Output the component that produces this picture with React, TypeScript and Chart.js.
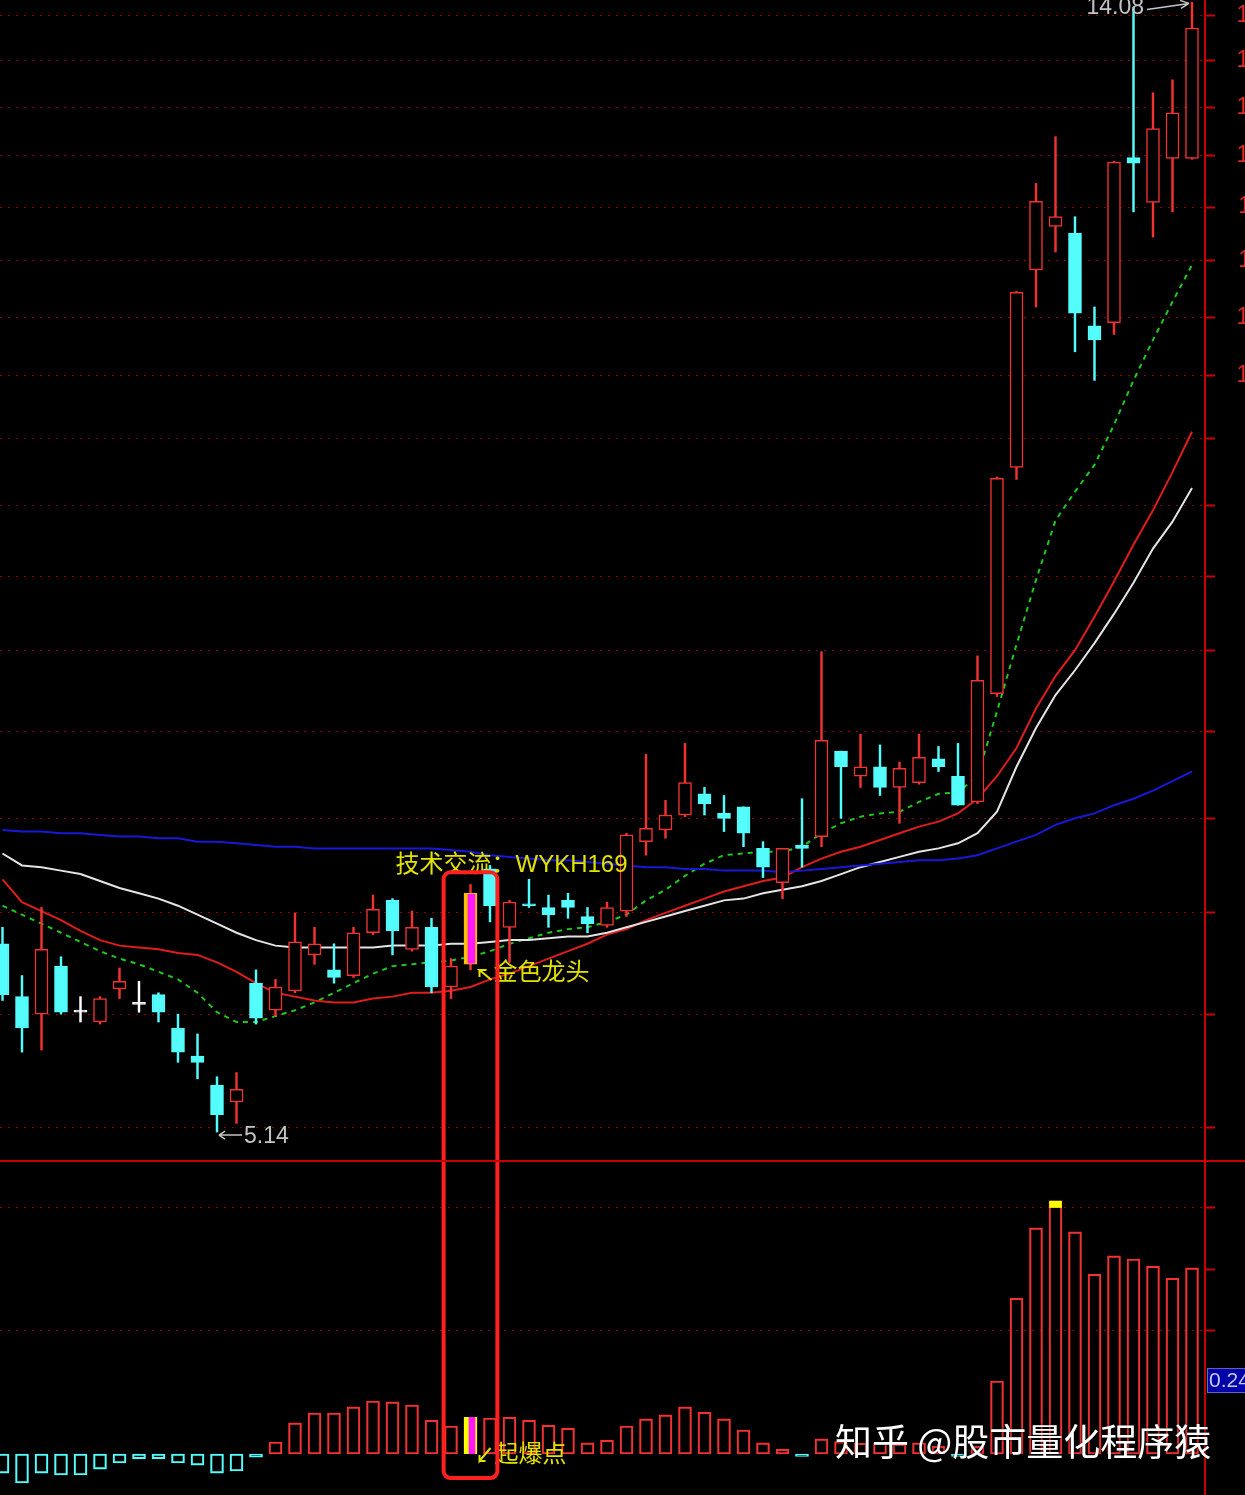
import React, { useEffect, useRef } from 'react';
import { Chart, registerables } from 'chart.js';

Chart.register(...registerables);

// ---------- data (daily candles, 62 sessions) ----------
const OPEN = [6.08, 5.80, 5.71, 5.96, 5.72, 5.67, 5.84, 5.76, 5.81, 5.64,
  5.50, 5.36, 5.28, 5.87, 5.73, 5.83, 6.02, 5.94, 5.91, 6.14,
  6.32, 6.05, 6.17, 5.85, 5.97, 6.50, 6.17, 6.30, 6.28, 6.32,
  6.23, 6.18, 6.26, 6.66, 6.73, 6.82, 6.95, 6.83, 6.87, 6.62,
  6.42, 6.64, 6.69, 7.22, 7.06, 7.12, 6.99, 7.02, 7.17, 7.06,
  6.90, 7.60, 9.30, 11.09, 11.53, 11.46, 10.55, 10.58, 12.26, 11.78,
  12.25, 12.25];
const CLOSE = [5.81, 5.64, 6.05, 5.72, 5.72, 5.79, 5.88, 5.76, 5.72, 5.52,
  5.47, 5.22, 5.34, 5.69, 5.85, 6.09, 6.08, 5.90, 6.14, 6.27,
  6.15, 6.17, 5.85, 5.96, 6.36, 6.29, 6.31, 6.29, 6.24, 6.28,
  6.19, 6.28, 6.70, 6.74, 6.82, 7.02, 6.89, 6.80, 6.71, 6.51,
  6.62, 6.62, 7.29, 7.12, 7.12, 6.99, 7.11, 7.18, 7.12, 6.88,
  7.69, 9.21, 10.87, 11.79, 11.63, 10.67, 10.42, 12.21, 12.20, 12.58,
  12.76, 13.76];
const HIGH = [6.17, 5.91, 6.28, 6.01, 5.80, 5.80, 5.95, 5.88, 5.82, 5.71,
  5.61, 5.40, 5.42, 5.94, 5.89, 6.25, 6.17, 6.08, 6.17, 6.35,
  6.33, 6.26, 6.22, 6.00, 6.41, 6.52, 6.32, 6.44, 6.35, 6.36,
  6.28, 6.31, 6.71, 7.20, 6.91, 7.27, 6.99, 6.94, 6.87, 6.66,
  6.62, 6.92, 7.89, 7.22, 7.33, 7.26, 7.15, 7.33, 7.25, 7.27,
  7.86, 9.22, 10.88, 11.98, 12.49, 11.63, 10.73, 12.22, 14.02, 12.99,
  13.14, 14.08];
const LOW = [5.78, 5.52, 5.53, 5.71, 5.67, 5.66, 5.79, 5.72, 5.67, 5.47,
  5.39, 5.14, 5.18, 5.66, 5.70, 5.82, 5.97, 5.87, 5.90, 6.13,
  6.02, 6.04, 5.82, 5.79, 5.94, 6.20, 5.98, 6.28, 6.17, 6.22,
  6.14, 6.17, 6.23, 6.58, 6.68, 6.81, 6.82, 6.72, 6.63, 6.45,
  6.33, 6.51, 6.63, 6.80, 6.99, 6.94, 6.77, 7.01, 7.09, 6.88,
  6.89, 7.58, 9.20, 10.73, 11.27, 10.31, 10.05, 10.47, 11.68, 11.42,
  11.68, 12.24];

// moving averages
const MA_BLUE = [6.73, 6.72, 6.72, 6.71, 6.71, 6.70, 6.69, 6.69, 6.68, 6.68,
  6.66, 6.66, 6.65, 6.64, 6.63, 6.63, 6.62, 6.62, 6.62, 6.62,
  6.62, 6.62, 6.62, 6.61, 6.60, 6.58, 6.57, 6.56, 6.55, 6.55,
  6.54, 6.53, 6.52, 6.51, 6.51, 6.50, 6.50, 6.49, 6.49, 6.49,
  6.48, 6.49, 6.50, 6.51, 6.52, 6.53, 6.54, 6.55, 6.55, 6.56,
  6.58, 6.62, 6.66, 6.70, 6.76, 6.80, 6.83, 6.88, 6.92, 6.97,
  7.03, 7.09];
const MA_WHITE = [6.59, 6.52, 6.51, 6.49, 6.47, 6.43, 6.39, 6.36, 6.33, 6.29,
  6.24, 6.19, 6.14, 6.10, 6.07, 6.06, 6.06, 6.06, 6.06, 6.06,
  6.07, 6.07, 6.07, 6.08, 6.08, 6.09, 6.10, 6.10, 6.11, 6.12,
  6.12, 6.14, 6.17, 6.20, 6.23, 6.26, 6.29, 6.32, 6.33, 6.36,
  6.38, 6.40, 6.43, 6.47, 6.51, 6.54, 6.57, 6.60, 6.62, 6.65,
  6.71, 6.84, 7.12, 7.37, 7.59, 7.76, 7.95, 8.16, 8.39, 8.65,
  8.86, 9.13];
const MA_RED = [6.44, 6.31, 6.26, 6.21, 6.15, 6.10, 6.07, 6.06, 6.05, 6.03,
  6.02, 5.98, 5.93, 5.87, 5.82, 5.80, 5.78, 5.77, 5.77, 5.79,
  5.80, 5.82, 5.82, 5.83, 5.85, 5.89, 5.92, 5.96, 6.00, 6.04,
  6.08, 6.13, 6.16, 6.21, 6.25, 6.29, 6.33, 6.37, 6.40, 6.43,
  6.45, 6.51, 6.56, 6.60, 6.63, 6.67, 6.71, 6.75, 6.78, 6.83,
  6.92, 7.06, 7.24, 7.50, 7.72, 7.90, 8.14, 8.40, 8.68, 8.95,
  9.26, 9.60];
const MA_GREEN = [6.29, 6.24, 6.19, 6.14, 6.09, 6.04, 6.00, 5.97, 5.93, 5.89,
  5.82, 5.72, 5.67, 5.67, 5.70, 5.73, 5.77, 5.82, 5.87, 5.92,
  5.96, 5.97, 5.98, 5.99, 6.01, 6.04, 6.08, 6.11, 6.14, 6.16,
  6.17, 6.20, 6.24, 6.32, 6.38, 6.46, 6.53, 6.58, 6.59, 6.60,
  6.60, 6.63, 6.71, 6.77, 6.81, 6.83, 6.84, 6.90, 6.95, 6.96,
  7.06, 7.48, 7.94, 8.41, 8.87, 9.10, 9.32, 9.66, 10.05, 10.42,
  10.78, 11.14];

// lower indicator histogram
const HIST = [-0.062, -0.094, -0.062, -0.068, -0.068, -0.049, -0.029, -0.016, -0.016, -0.029,
  -0.036, -0.062, -0.055, -0.010, 0.039, 0.101, 0.133, 0.133, 0.153, 0.172,
  0.169, 0.159, 0.110, 0.091, 0.120, 0.117, 0.120, 0.110, 0.094, 0.084,
  0.036, 0.045, 0.091, 0.114, 0.127, 0.153, 0.136, 0.114, 0.078, 0.036,
  0.016, -0.008, 0.049, 0.040, 0.035, 0.036, 0.032, 0.036, 0.025, -0.008,
  0.025, 0.237, 0.506, 0.734, 0.821, 0.721, 0.584, 0.643, 0.633, 0.610,
  0.571, 0.604];

const PRICE_TICKS = [5.16, 5.71, 6.25, 6.80, 7.35, 7.90, 8.44, 8.99, 9.54, 10.09,
  10.63, 11.18, 11.73, 12.28, 12.82, 13.37, 13.92];
const HIST_TICKS = [0.4, 0.6, 0.8];
const HIST_GRID = [0.4, 0.8];

const SIGNAL_INDEX = 24;
const PEAK_CAP_INDEX = 54;
const PEAK_CAP = [0.80, 0.821];
const NOTE_TEXT = '技术交流：WYKH169';
const NOTE_INDEX = 20;
const NOTE_PRICE = 6.52;
const SIGNAL_LABEL = '金色龙头';
const BURST_LABEL = '起爆点';
const CURRENT_VALUE = 0.24;
const BOX_TOP_PRICE = 6.48;
const BOX_BOTTOM_VALUE = -0.078;
const BOX_HALF_SPAN = 1.38;
const WATERMARK = '知乎 @股市量化程序猿';

// ---------- styles ----------
const UP = '#f03232';
const DOWN = '#54fcfc';
const DOJI = '#ffffff';
const SIGNAL_FILL = '#ff18ff';
const SIGNAL_EDGE = '#ffc000';
const YELLOW = '#e2e200';
const LABEL_GRAY = '#c4c4c4';
const GRID = '#8a0000';
const AXIS_RED = '#c80000';
const FONT_LATIN = '"Liberation Sans", Arial, sans-serif';
const FONT_CJK = '"Liberation Sans", "Noto Sans CJK SC", sans-serif';

const CANVAS_W = 1294;
const CANVAS_H = 1495;
const AXIS_W = 89;

function candleKind(i: number) {
  if (i === SIGNAL_INDEX) return 'signal';
  const d = CLOSE[i] - OPEN[i];
  return d > 0 ? 'up' : d < 0 ? 'down' : 'doji';
}

const annotate = {
  id: 'annotate',
  afterDatasetsDraw(chart: any) {
    const { ctx } = chart;
    const x = chart.scales.x;
    const y = chart.scales.y;
    const y2 = chart.scales.y2;
    ctx.save();

    // contact note
    ctx.font = '24px ' + FONT_CJK;
    ctx.fillStyle = YELLOW;
    ctx.textAlign = 'left';
    ctx.textBaseline = 'middle';
    ctx.fillText(NOTE_TEXT, x.getPixelForValue(NOTE_INDEX) + 3, y.getPixelForValue(NOTE_PRICE));

    // highest price label
    const hi = HIGH.indexOf(Math.max(...HIGH));
    const hx = x.getPixelForValue(hi);
    const hy = y.getPixelForValue(HIGH[hi]);
    ctx.font = '23px ' + FONT_LATIN;
    ctx.fillStyle = LABEL_GRAY;
    ctx.strokeStyle = LABEL_GRAY;
    ctx.lineWidth = 1.5;
    ctx.textAlign = 'right';
    ctx.fillText(HIGH[hi].toFixed(2), hx - 48, hy + 5);
    ctx.beginPath();
    ctx.moveTo(hx - 45, hy + 7);
    ctx.lineTo(hx - 3, hy + 1);
    ctx.moveTo(hx - 3, hy + 1);
    ctx.lineTo(hx - 12, hy - 2);
    ctx.moveTo(hx - 3, hy + 1);
    ctx.lineTo(hx - 11, hy + 6);
    ctx.stroke();

    // lowest price label
    const lo = LOW.indexOf(Math.min(...LOW));
    const lx = x.getPixelForValue(lo);
    const ly = y.getPixelForValue(LOW[lo]);
    ctx.beginPath();
    ctx.moveTo(lx + 2, ly + 3);
    ctx.lineTo(lx + 25, ly + 3);
    ctx.moveTo(lx + 2, ly + 3);
    ctx.lineTo(lx + 8, ly - 1);
    ctx.moveTo(lx + 2, ly + 3);
    ctx.lineTo(lx + 8, ly + 7);
    ctx.stroke();
    ctx.textAlign = 'left';
    ctx.fillText(LOW[lo].toFixed(2), lx + 27, ly + 5);

    // signal labels
    const sx = x.getPixelForValue(SIGNAL_INDEX);
    const sy = y.getPixelForValue(LOW[SIGNAL_INDEX]);
    ctx.strokeStyle = YELLOW;
    ctx.fillStyle = YELLOW;
    ctx.lineWidth = 2;
    ctx.beginPath();
    ctx.moveTo(sx + 21, sy + 10);
    ctx.lineTo(sx + 9, sy);
    ctx.lineTo(sx + 16, sy);
    ctx.moveTo(sx + 9, sy);
    ctx.lineTo(sx + 9, sy + 7);
    ctx.stroke();
    ctx.font = '24px ' + FONT_CJK;
    ctx.fillText(SIGNAL_LABEL, sx + 23, sy + 3);

    const by = y2.getPixelForValue(0);
    ctx.beginPath();
    ctx.moveTo(sx + 20, by - 6);
    ctx.lineTo(sx + 9, by + 7);
    ctx.lineTo(sx + 9, by + 1);
    ctx.moveTo(sx + 9, by + 7);
    ctx.lineTo(sx + 15, by + 7);
    ctx.stroke();
    ctx.fillText(BURST_LABEL, sx + 24, by + 1);

    // highlight frame
    const left = x.getPixelForValue(SIGNAL_INDEX - BOX_HALF_SPAN);
    const right = x.getPixelForValue(SIGNAL_INDEX + BOX_HALF_SPAN);
    const top = y.getPixelForValue(BOX_TOP_PRICE);
    const bottom = y2.getPixelForValue(BOX_BOTTOM_VALUE);
    ctx.strokeStyle = '#ff2020';
    ctx.lineWidth = 4;
    ctx.beginPath();
    if (ctx.roundRect) ctx.roundRect(left, top, right - left, bottom - top, 7);
    else ctx.rect(left, top, right - left, bottom - top);
    ctx.stroke();
    ctx.restore();
  },
  afterDraw(chart: any) {
    const { ctx } = chart;
    const y2 = chart.scales.y2;
    ctx.save();
    // panel separator
    ctx.fillStyle = AXIS_RED;
    ctx.fillRect(0, y2.top - 1, chart.width, 2);

    // current value tag
    const vy = y2.getPixelForValue(CURRENT_VALUE);
    ctx.fillStyle = '#0000a8';
    ctx.fillRect(y2.left + 2, vy - 12, chart.width - y2.left, 25);
    ctx.strokeStyle = '#6a6ab8';
    ctx.lineWidth = 1;
    ctx.strokeRect(y2.left + 2.5, vy - 11.5, chart.width - y2.left, 24);
    ctx.fillStyle = '#c8c8f0';
    ctx.font = '21px ' + FONT_LATIN;
    ctx.textAlign = 'left';
    ctx.textBaseline = 'middle';
    ctx.fillText(CURRENT_VALUE.toFixed(2), y2.left + 4, vy + 1);

    // watermark
    ctx.font = '37px "Noto Sans CJK SC", sans-serif';
    ctx.shadowColor = 'rgba(0,0,0,0.7)';
    ctx.shadowBlur = 3;
    ctx.fillStyle = '#ffffff';
    ctx.fillText(WATERMARK, 835, 1442);
    ctx.restore();
  },
};

function fixAxis(axis: any) {
  axis.width = AXIS_W;
  axis.paddingTop = 0;
  axis.paddingBottom = 0;
}

export default function App() {
  const ref = useRef<HTMLCanvasElement>(null);

  useEffect(() => {
    const idx = OPEN.map((_, i) => i);
    const line = (arr: number[], color: string, dash: number[] = []) => ({
      type: 'line' as const,
      data: arr.map((v, i) => ({ x: i, y: v })),
      yAxisID: 'y',
      borderColor: color,
      borderWidth: 2,
      borderDash: dash,
      pointRadius: 0,
      tension: 0,
      order: 10,
    });

    const chart = new Chart(ref.current as HTMLCanvasElement, {
      type: 'bar',
      data: {
        datasets: [
          line(MA_BLUE, '#1818d8'),
          line(MA_WHITE, '#e4e4e4'),
          line(MA_RED, '#e01c1c'),
          line(MA_GREEN, '#1ec81e', [5, 5]),
          {
            type: 'bar',
            data: idx.map((i) => ({ x: i, y: [LOW[i], HIGH[i]] })),
            yAxisID: 'y',
            grouped: false,
            barThickness: 1.8,
            borderWidth: 0,
            backgroundColor: (c: any) => {
              const k = candleKind(c.dataIndex);
              return k === 'down' ? DOWN : k === 'doji' ? DOJI : UP;
            },
            order: 5,
          } as any,
          {
            type: 'bar',
            data: idx.map((i) => ({ x: i, y: [OPEN[i], CLOSE[i]] })),
            yAxisID: 'y',
            grouped: false,
            barThickness: 13,
            minBarLength: 2,
            borderSkipped: false,
            backgroundColor: (c: any) => {
              const k = candleKind(c.dataIndex);
              return k === 'up' ? '#000000' : k === 'down' ? DOWN : k === 'doji' ? DOJI : SIGNAL_FILL;
            },
            borderColor: (c: any) => {
              const k = candleKind(c.dataIndex);
              return k === 'up' ? UP : k === 'down' ? DOWN : k === 'doji' ? DOJI : SIGNAL_EDGE;
            },
            borderWidth: (c: any) =>
              candleKind(c.dataIndex) === 'signal' ? { left: 4, right: 2, top: 1, bottom: 1 } : 1.5,
            order: 4,
          } as any,
          {
            type: 'bar',
            data: HIST.map((v, i) => ({ x: i, y: v })),
            yAxisID: 'y2',
            grouped: false,
            barThickness: 13,
            minBarLength: 2,
            borderSkipped: false,
            backgroundColor: (c: any) => (c.dataIndex === SIGNAL_INDEX ? SIGNAL_FILL : 'rgba(0,0,0,0)'),
            borderColor: (c: any) =>
              c.dataIndex === SIGNAL_INDEX ? '#ffff00' : HIST[c.dataIndex] >= 0 ? UP : DOWN,
            borderWidth: (c: any) =>
              c.dataIndex === SIGNAL_INDEX ? { left: 5, right: 2, top: 0, bottom: 0 } : 1.5,
            order: 3,
          } as any,
          {
            type: 'bar',
            data: [{ x: PEAK_CAP_INDEX, y: PEAK_CAP }],
            yAxisID: 'y2',
            grouped: false,
            barThickness: 12,
            borderWidth: 0,
            backgroundColor: '#ffff00',
            order: 2,
          } as any,
        ],
      },
      options: {
        animation: false,
        responsive: false,
        maintainAspectRatio: false,
        devicePixelRatio: 1,
        layout: { padding: 0 },
        events: [],
        plugins: { legend: { display: false }, tooltip: { enabled: false } },
        scales: {
          x: {
            type: 'linear',
            min: -0.128,
            max: 61.667,
            offset: false,
            bounds: 'data',
            display: false,
            grid: { offset: false },
          },
          y: {
            type: 'logarithmic',
            position: 'right',
            stack: 'panes',
            stackWeight: 1161,
            min: 5.009,
            max: 14.11,
            bounds: 'data',
            afterBuildTicks: (axis: any) => {
              axis.ticks = PRICE_TICKS.map((v) => ({ value: v }));
            },
            afterFit: fixAxis,
            ticks: {
              callback: (v: any) => Number(v).toFixed(2),
              color: '#e02a2a',
              font: { family: 'Liberation Sans', size: 23 },
              crossAlign: 'far',
              padding: 21,
              autoSkip: false,
            },
            grid: {
              color: GRID,
              lineWidth: 1,
              tickLength: 10,
              tickColor: AXIS_RED,
              tickWidth: 2,
              tickBorderDash: [],
            },
            border: { color: AXIS_RED, width: 2, dash: [2, 6] },
          },
          y2: {
            type: 'linear',
            position: 'right',
            stack: 'panes',
            stackWeight: 334,
            min: -0.133,
            max: 0.951,
            bounds: 'data',
            afterBuildTicks: (axis: any) => {
              axis.ticks = HIST_TICKS.map((v) => ({ value: v }));
            },
            afterFit: fixAxis,
            ticks: {
              color: 'rgba(0,0,0,0)',
              font: { family: 'Liberation Sans', size: 23 },
              crossAlign: 'far',
              padding: 21,
              autoSkip: false,
            },
            grid: {
              color: (c: any) => (c.tick && HIST_GRID.includes(c.tick.value) ? GRID : 'rgba(0,0,0,0)'),
              lineWidth: 1,
              tickLength: 10,
              tickColor: AXIS_RED,
              tickWidth: 2,
              tickBorderDash: [],
            },
            border: { color: AXIS_RED, width: 2, dash: [2, 6] },
          },
        },
      } as any,
      plugins: [annotate],
    });
    return () => chart.destroy();
  }, []);

  return (
    <div
      style={{
        position: 'absolute',
        left: 0,
        top: 0,
        width: 1245,
        height: 1495,
        overflow: 'hidden',
        background: '#000',
      }}
    >
      <canvas
        ref={ref}
        width={CANVAS_W}
        height={CANVAS_H}
        style={{ display: 'block', width: CANVAS_W, height: CANVAS_H }}
      />
    </div>
  );
}
